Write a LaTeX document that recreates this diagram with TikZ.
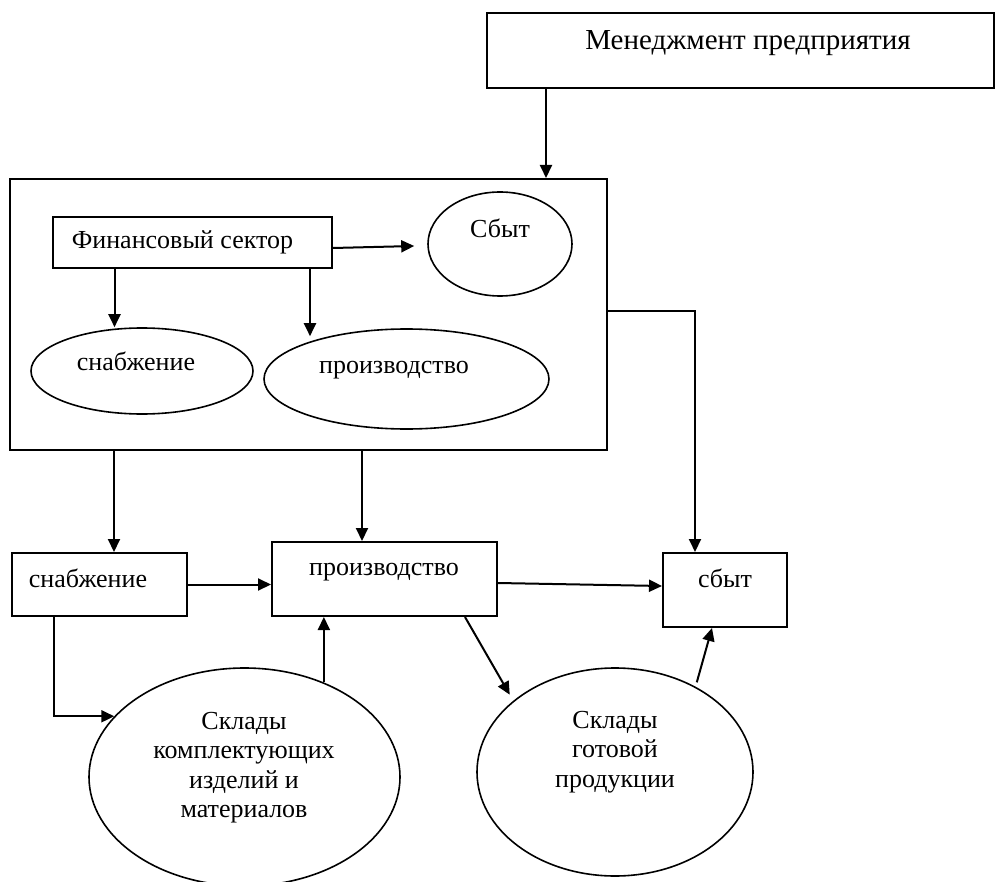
\documentclass[tikz,border=0pt]{standalone}
\usepackage{fontspec}
\setmainfont{Liberation Serif}
\usetikzlibrary{arrows.meta,shapes.geometric}
\begin{document}
\begin{tikzpicture}[x=1pt,y=-1pt,
  box/.style={draw,line width=2pt,rectangle,inner sep=0pt},
  oval/.style={draw,ellipse,line width=1.6pt,inner sep=0pt},
  lbl/.style={font=\fontsize{26}{29.5}\selectfont,anchor=base,inner sep=0pt},
  arr/.style={line width=2pt,-{Triangle[length=13pt,width=12pt]}}]
\clip (0,0) rectangle (995,882);
% shapes
\node[box,minimum width=507pt,minimum height=75pt] (top) at (740.5,50.5) {};
\node[box,minimum width=597pt,minimum height=271pt] (big) at (308.5,314.5) {};
\node[box,minimum width=279pt,minimum height=51pt] (fin) at (192.5,242.5) {};
\node[oval,minimum width=144pt,minimum height=104pt] (sbyt1) at (500,244) {};
\node[oval,minimum width=222pt,minimum height=86pt] (snab1) at (142,371) {};
\node[oval,minimum width=285pt,minimum height=100pt] (proizv1) at (406.5,379) {};
\node[box,minimum width=175pt,minimum height=63pt] (snab2) at (99.5,584.5) {};
\node[box,minimum width=225pt,minimum height=74pt] (proizv2) at (384.5,579) {};
\node[box,minimum width=124pt,minimum height=74pt] (sbyt2) at (725,590) {};
\node[oval,minimum width=311pt,minimum height=218pt] (sklad1) at (244.5,777) {};
\node[oval,minimum width=276pt,minimum height=208pt] (sklad2) at (615,772) {};
% texts
\node[lbl,font=\fontsize{29}{32}\selectfont] (topt) at (748,50) {Менеджмент предприятия};
\node[lbl] (fint) at (182.5,249) {Финансовый сектор};
\node[lbl] (sbyt1t) at (500,238) {Сбыт};
\node[lbl] (snab1t) at (136,370.5) {снабжение};
\node[lbl] (proizv1t) at (394,373) {производство};
\node[lbl] (snab2t) at (88,587) {снабжение};
\node[lbl] (proizv2t) at (384,575) {производство};
\node[lbl] (sbyt2t) at (725,587) {сбыт};
\node[lbl,align=center] (sklad1t) at (244,817.5) {Склады\\комплектующих\\изделий и\\материалов};
\node[lbl,align=center] (sklad2t) at (615,787) {Склады\\готовой\\продукции};
% helper coordinates
\coordinate (xa) at (546,0);
\coordinate (xb) at (114.5,0);
\coordinate (xc) at (310,0);
\coordinate (xd) at (114,0);
\coordinate (xe) at (362,0);
\coordinate (c1) at (695,311);
\coordinate (c2) at (54,0);
\coordinate (xf) at (465,0);
\coordinate (xg) at (712,0);
% connectors
\draw[arr] (top.south -| xa) -- (big.north -| xa);
\draw[arr] ([yshift=-5.5pt]fin.east) -- ([xshift=-13pt,yshift=-2pt]sbyt1.west);
\draw[arr] (fin.south -| xb) -- (snab1.north -| xb);
\draw[arr] (fin.south -| xc) -- ([yshift=-8pt]proizv1.north -| xc);
\draw[arr] (big.east |- c1) -- (c1) -- (sbyt2.north -| c1);
\draw[arr] (big.south -| xd) -- (snab2.north -| xd);
\draw[arr] (big.south -| xe) -- (proizv2.north -| xe);
\draw[arr] (snab2.east) -- (proizv2.west |- snab2.east);
\draw[arr] ([yshift=-4pt]proizv2.east) -- ([yshift=4pt]sbyt2.west);
\draw[arr] (snab2.south -| c2) |- (sklad1.155.7);
\draw[arr] (sklad1.50) -- (proizv2.south -| sklad1.50);
\draw[arr,shorten >=7pt] (proizv2.south -| xf) -- (sklad2.145);
\draw[arr] ([yshift=5pt]sklad2.46) -- (sbyt2.south -| xg);
\end{tikzpicture}
\end{document}
